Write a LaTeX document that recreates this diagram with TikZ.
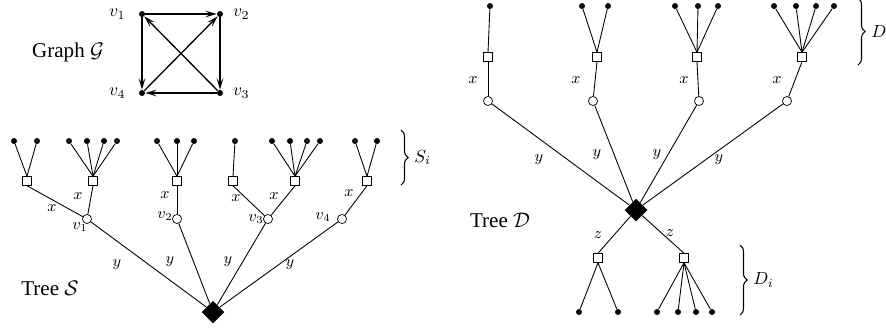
\documentclass[tikz,border=0pt]{standalone}
\usepackage[no-math]{fontspec}
\setmainfont{Liberation Serif}
\usepackage{amsmath,amssymb}
\usetikzlibrary{positioning,arrows.meta,shapes.geometric,decorations.pathreplacing}
\tikzset{
  leaf/.style={circle, fill, inner sep=0pt, minimum size=3.4pt},
  sq/.style={draw, fill=white, inner sep=0pt, minimum size=5pt, line width=0.4pt},
  hub/.style={draw, circle, fill=white, inner sep=0pt, minimum size=5.2pt, line width=0.4pt},
  root/.style={diamond, fill, inner sep=0pt, minimum size=13pt},
  gv/.style={circle, fill, inner sep=0pt, minimum size=3.4pt},
  garr/.style={-{Stealth[open, length=6.5pt, width=3.8pt, inset=2.8pt]}, line width=0.75pt},
  tline/.style={line width=0.5pt},
  lab/.style={font=\small, inner sep=1pt},
  title/.style={font=\large},
  brc/.style={decorate, decoration={brace, amplitude=4pt}, line width=0.6pt},
}

\begin{document}
\begin{tikzpicture}[x=0.57pt, y=-0.57pt]
  \useasboundingbox (0,0) rectangle (886,327);
  % graph G
  \node[gv] (g1) at (142,14) {};
  \node[gv] (g2) at (220,14) {};
  \node[gv] (g3) at (220,93) {};
  \node[gv] (g4) at (142,93) {};
  \node[left=4pt of g1] (g1l) {$v_1$};
  \node[right=2pt of g2] (g2l) {$v_2$};
  \node[right=2pt of g3] (g3l) {$v_3$};
  \node[left=4pt of g4] (g4l) {$v_4$};
  \node[title] (graph) at (68,52) {Graph $\mathcal{G}$};
  \draw[garr] (g1) -- (g2); \draw[garr] (g1) -- (g4); \draw[garr] (g2) -- (g3);
  \draw[garr] (g3) -- (g4); \draw[garr] (g3) -- (g1); \draw[garr] (g4) -- (g2);
  % tree S: leaves
  \node[leaf] (s1a) at (14,141) {};  \node[leaf] (s1b) at (37,141) {};
  \node[leaf] (s2a) at (69,141) {};  \node[leaf] (s2b) at (87,141) {};
  \node[leaf] (s2c) at (104,141) {}; \node[leaf] (s2d) at (117,141) {};
  \node[leaf] (s3a) at (157,141) {}; \node[leaf] (s3b) at (177,141) {};
  \node[leaf] (s3c) at (194,141) {};
  \node[leaf] (s4a) at (235,141) {};
  \node[leaf] (s5a) at (272,141) {}; \node[leaf] (s5b) at (290,141) {};
  \node[leaf] (s5c) at (307,141) {}; \node[leaf] (s5d) at (320,141) {};
  \node[leaf] (s6a) at (355,141) {}; \node[leaf] (s6b) at (377,141) {};
  % tree S: squares, hubs, root
  \node[sq] (sq1) at (27,181) {};  \node[sq] (sq2) at (93,181) {};
  \node[sq] (sq3) at (177,181) {}; \node[sq] (sq4) at (233,181) {};
  \node[sq] (sq5) at (295,181) {}; \node[sq] (sq6) at (367,181) {};
  \node[hub] (h1) at (87,219) {};  \node[hub] (h2) at (177,219) {};
  \node[hub] (h3) at (268,219) {}; \node[hub] (h4) at (342,219) {};
  \node[root] (sroot) at (213,312) {};
  % tree S: edges
  \draw[tline] (s1a) -- (sq1.north); \draw[tline] (s1b) -- (sq1.north);
  \draw[tline] (s2a) -- (sq2.north); \draw[tline] (s2b) -- (sq2.north);
  \draw[tline] (s2c) -- (sq2.north); \draw[tline] (s2d) -- (sq2.north);
  \draw[tline] (s3a) -- (sq3.north); \draw[tline] (s3b) -- (sq3.north);
  \draw[tline] (s3c) -- (sq3.north);
  \draw[tline] (s4a) -- (sq4.north);
  \draw[tline] (s5a) -- (sq5.north); \draw[tline] (s5b) -- (sq5.north);
  \draw[tline] (s5c) -- (sq5.north); \draw[tline] (s5d) -- (sq5.north);
  \draw[tline] (s6a) -- (sq6.north); \draw[tline] (s6b) -- (sq6.north);
  \draw[tline] (sq1.south) -- (h1); \draw[tline] (sq2.south) -- (h1);
  \draw[tline] (sq3.south) -- (h2);
  \draw[tline] (sq4.south) -- (h3); \draw[tline] (sq5.south) -- (h3);
  \draw[tline] (sq6.south) -- (h4);
  \draw[tline] (h1) -- (sroot); \draw[tline] (h2) -- (sroot);
  \draw[tline] (h3) -- (sroot); \draw[tline] (h4) -- (sroot);
  % tree S: labels
  \node[lab] (sx1) at (52,208) {$x$};  \node[lab] (sx2) at (78,196) {$x$};
  \node[lab] (sx3) at (165,195) {$x$}; \node[lab] (sx4) at (236,198) {$x$};
  \node[lab] (sx5) at (274,196) {$x$}; \node[lab] (sx6) at (349,193) {$x$};
  \node[lab] (sv1) at (80,227) {$v_1$}; \node[lab] (sv2) at (165,216) {$v_2$};
  \node[lab] (sv3) at (256,219) {$v_3$}; \node[lab] (sv4) at (323,217) {$v_4$};
  \node[lab] (sy1) at (117,265) {$y$}; \node[lab] (sy2) at (170,262) {$y$};
  \node[lab] (sy3) at (228,262) {$y$}; \node[lab] (sy4) at (290,265) {$y$};
  \node[title] (treeS) at (50,288) {Tree $\mathcal{S}$};
  \coordinate (sitop) at (401,130); \coordinate (sibot) at (401,185);
  \draw[brc] (sitop) -- node[right=4pt] (silbl) {$S_i$} (sibot);
  % tree D: leaves
  \node[leaf] (d1a) at (490,6) {};
  \node[leaf] (d2a) at (582,6) {}; \node[leaf] (d2b) at (608,6) {};
  \node[leaf] (d3a) at (675,6) {}; \node[leaf] (d3b) at (698,6) {};
  \node[leaf] (d3c) at (718,6) {};
  \node[leaf] (d4a) at (774,6) {}; \node[leaf] (d4b) at (796,6) {};
  \node[leaf] (d4c) at (816,6) {}; \node[leaf] (d4d) at (834,6) {};
  % tree D: squares, hubs, root
  \node[sq] (dq1) at (488,57) {}; \node[sq] (dq2) at (597,57) {};
  \node[sq] (dq3) at (697,57) {}; \node[sq] (dq4) at (802,57) {};
  \node[hub] (dh1) at (488,101) {}; \node[hub] (dh2) at (593,101) {};
  \node[hub] (dh3) at (699,101) {}; \node[hub] (dh4) at (787,101) {};
  \node[root] (droot) at (636,210) {};
  \node[sq] (bq1) at (598,258) {}; \node[sq] (bq2) at (684,258) {};
  \node[leaf] (b1a) at (579,312) {}; \node[leaf] (b1b) at (618,312) {};
  \node[leaf] (b2a) at (657,312) {}; \node[leaf] (b2b) at (678,312) {};
  \node[leaf] (b2c) at (696,312) {}; \node[leaf] (b2d) at (712,312) {};
  % tree D: edges
  \draw[tline] (d1a) -- (dq1.north);
  \draw[tline] (d2a) -- (dq2.north); \draw[tline] (d2b) -- (dq2.north);
  \draw[tline] (d3a) -- (dq3.north); \draw[tline] (d3b) -- (dq3.north);
  \draw[tline] (d3c) -- (dq3.north);
  \draw[tline] (d4a) -- (dq4.north); \draw[tline] (d4b) -- (dq4.north);
  \draw[tline] (d4c) -- (dq4.north); \draw[tline] (d4d) -- (dq4.north);
  \draw[tline] (dq1.south) -- (dh1); \draw[tline] (dq2.south) -- (dh2);
  \draw[tline] (dq3.south) -- (dh3); \draw[tline] (dq4.south) -- (dh4);
  \draw[tline] (dh1) -- (droot); \draw[tline] (dh2) -- (droot);
  \draw[tline] (dh3) -- (droot); \draw[tline] (dh4) -- (droot);
  \draw[tline] (droot) -- (bq1.north); \draw[tline] (droot) -- (bq2.north);
  \draw[tline] (bq1.south) -- (b1a); \draw[tline] (bq1.south) -- (b1b);
  \draw[tline] (bq2.south) -- (b2a); \draw[tline] (bq2.south) -- (b2b);
  \draw[tline] (bq2.south) -- (b2c); \draw[tline] (bq2.south) -- (b2d);
  % tree D: labels
  \node[lab] (dx1) at (473,80) {$x$}; \node[lab] (dx2) at (576,80) {$x$};
  \node[lab] (dx3) at (684,80) {$x$}; \node[lab] (dx4) at (777,80) {$x$};
  \node[lab] (dy1) at (539,160) {$y$}; \node[lab] (dy2) at (597,155) {$y$};
  \node[lab] (dy3) at (657,155) {$y$}; \node[lab] (dy4) at (719,160) {$y$};
  \node[lab] (dz1) at (598,235) {$z$}; \node[lab] (dz2) at (670,233) {$z$};
  \node[title] (treeD) at (500,220) {Tree $\mathcal{D}$};
  \coordinate (dtop) at (858,-2); \coordinate (dbot) at (858,65);
  \draw[brc] (dtop) -- node[right=4pt] (dlbl) {$D$} (dbot);
  \coordinate (ditop) at (740,245); \coordinate (dibot) at (740,315);
  \draw[brc] (ditop) -- node[right=4pt] (dilbl) {$D_i$} (dibot);
\end{tikzpicture}
\end{document}
